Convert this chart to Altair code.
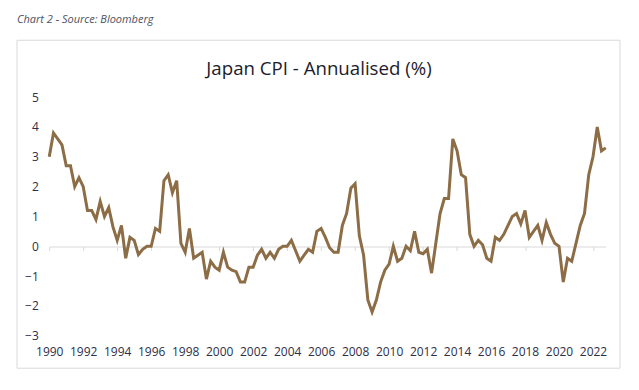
import altair as alt
import pandas as pd

# Japan CPI, annualised (%), quarterly from 1990 Q1
start_year = 1990
cpi_1990s = [3.0, 3.8, 3.6, 3.4, 2.7, 2.7, 2.0, 2.3, 2.0, 1.2, 1.2, 0.9, 1.5, 1.0, 1.3, 0.65,
             0.2, 0.7, -0.4, 0.3, 0.2, -0.28, -0.1, 0.0, 0.0, 0.6, 0.5, 2.2, 2.4, 1.8, 2.2, 0.1,
             -0.2, 0.6, -0.4, -0.3, -0.2, -1.1, -0.5, -0.7]
cpi_2000s = [-0.8, -0.2, -0.7, -0.8, -0.85, -1.2, -1.2, -0.7, -0.7, -0.3, -0.1, -0.4, -0.2, -0.4, -0.1, 0.0,
             0.0, 0.2, -0.15, -0.5, -0.3, -0.1, -0.2, 0.5, 0.6, 0.3, -0.05, -0.2, -0.2, 0.7, 1.1, 1.95,
             2.1, 0.35, -0.3, -1.8, -2.2, -1.8, -1.2, -0.8]
cpi_2010s = [-0.6, 0.0, -0.5, -0.4, 0.0, -0.15, 0.5, -0.2, -0.25, -0.1, -0.9, 0.1, 1.1, 1.6, 1.6, 3.6,
             3.2, 2.4, 2.3, 0.4, 0.0, 0.2, 0.05, -0.4, -0.5, 0.3, 0.2, 0.4, 0.7, 1.0, 1.1, 0.75,
             1.2, 0.3, 0.5, 0.7, 0.2, 0.8, 0.4, 0.1]
cpi_2020s = [0.0, -1.2, -0.4, -0.5, 0.1, 0.7, 1.1, 2.4, 3.0, 4.0, 3.2, 3.3]

values = cpi_1990s + cpi_2000s + cpi_2010s + cpi_2020s
df = pd.DataFrame({
    "t": [start_year + i / 4 for i in range(len(values))],
    "cpi": values,
})

x_ticks = list(range(1990, 2023, 2))
y_ticks = [-3, -2, -1, 0, 1, 2, 3, 4, 5]

title_text = "Japan CPI - Annualised (%)"
caption_text = "Chart 2 - Source: Bloomberg"

FONT = "Open Sans"
W, H = 557.4, 239

x_scale = alt.Scale(domain=[1990, 2022.75], nice=False, zero=False)
y_scale = alt.Scale(domain=[-3, 5], nice=False)

one = alt.Data(values=[{}])

box = alt.Chart(one).mark_rect(fill="transparent", stroke="#d9d9d9", strokeWidth=1).encode(
    x=alt.value(-32.3), x2=alt.value(571.7), y=alt.value(-57), y2=alt.value(271.5)
)

line = alt.Chart(df).mark_line(color="#8c6d46", strokeWidth=3, strokeJoin="miter").encode(
    x=alt.X("t:Q", scale=x_scale,
            axis=alt.Axis(values=x_ticks, format="d", title=None, grid=False,
                          offset=-89.4, domainColor="#d9d9d9", domainWidth=1,
                          tickColor="#d9d9d9", tickSize=4, tickWidth=1,
                          labelPadding=96, labelFont=FONT, labelFontSize=12,
                          labelColor="#2e2e48", labelFlush=False, labelOverlap=False,
                          zindex=0)),
    y=alt.Y("cpi:Q", scale=y_scale,
            axis=alt.Axis(values=y_ticks, title=None, grid=False, domain=False, ticks=False,
                          labelPadding=11, labelFont=FONT, labelFontSize=12,
                          labelColor="#2e2e48", zindex=1)),
)

caption = alt.Chart(one).mark_text(
    text=caption_text, font=FONT, fontSize=11, fontStyle="italic", color="#50505e",
    align="left", baseline="alphabetic"
).encode(x=alt.value(-32.3), y=alt.value(-74.5))

title = alt.Chart(one).mark_text(
    text=title_text, font=FONT, fontSize=18.7, color="#1c1c2c",
    align="center", baseline="alphabetic"
).encode(x=alt.value(270.2), y=alt.value(-22))

chart = alt.layer(box, line, caption, title).properties(
    width=W, height=H,
    autosize=alt.AutoSizeParams(type="none"),
    padding={"left": 41.3, "top": 89, "right": 25.3, "bottom": 47},
    background="white",
).configure_view(stroke=None)

chart.save("out.html", embed_options={"renderer": "svg", "actions": False})
